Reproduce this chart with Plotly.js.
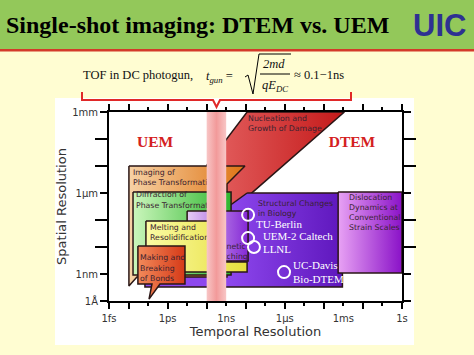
<!DOCTYPE html>
<html><head><meta charset="utf-8">
<script src="https://cdn.plot.ly/plotly-3.0.1.min.js"></script>
<style>html,body{margin:0;padding:0;background:#FFFDD2;}#chart{width:474px;height:355px;}</style>
</head><body><div id="chart"></div>
<script>
// ---- axis ticks (exponents: log10 seconds, log10 metres) ----
const timeTickExp = [-15, -12, -9, -6, -3, 0];
const timeTickText = ['1fs', '1ps', '1ns', '1µs', '1ms', '1s'];
const timeLongTicks = [-15, -14, -12, -10, -8, -6, -4, -2, 0];
const timeShortTicks = [-13, -11, -9, -7, -5, -3, -1];
const lengthTickExp = [-10, -9, -6, -3];
const lengthTickText = ['1Å', '1nm', '1µm', '1mm'];
const lengthMinorTicks = [-8, -7, -5, -4];

// ---- regions: vertices as (log10 time [s], log10 length [m]) ----
const nucleationT = [-7.93, -2.95, -8.80, -10.85, -9.98];
const nucleationD = [-3.00, -3.00, -6.70, -6.70, -4.96];
const structuralT = [-7.93, -3.05, -3.05, -13.16, -13.16, -9.42];
const structuralD = [-6.00, -6.00, -9.48, -9.48, -7.37, -6.78];
const imagingT = [-13.98, -8.04, -8.96, -8.96, -13.57, -13.98];
const imagingD = [-5.00, -5.00, -5.67, -9.11, -9.11, -9.44];
const diffractionT = [-13.77, -8.75, -8.75, -13.77];
const diffractionD = [-5.96, -5.96, -9.04, -9.04];
const magneticT = [-11.00, -7.88, -7.88, -11.00];
const magneticD = [-6.67, -6.67, -8.52, -8.52];
const meltingT = [-13.11, -9.52, -9.52, -7.93, -7.93, -13.11];
const meltingD = [-7.04, -7.04, -8.56, -8.56, -8.93, -8.93];
const makingT = [-13.52, -11.11, -11.11, -12.39, -12.95, -12.80, -13.52];
const makingD = [-7.96, -7.96, -9.37, -9.37, -9.93, -9.37, -9.37];
const dislocationT = [-3.27, 0.00, 0.00, -3.27];
const dislocationD = [-5.96, -5.96, -8.96, -8.96];
const gunTofT = [-10, -9, -9, -10];
const gunTofD = [-10, -10, -3, -3];

// ---- region labels ----
const regionLabels = ['Nucleation and<br>Growth of Damage', 'Structural Changes<br>in Biology',
  'Dislocation<br>Dynamics at<br>Conventional<br>Strain Scales', 'Imaging of<br>Phase Transformation',
  'Diffraction of<br>Phase Transformation', 'Melting and<br>Resolidification', 'Magnetic<br>Switching',
  'Making and<br>Breaking<br>of Bonds'];
const regionLabelT = [-7.88, -7.37, -2.71, -13.77, -13.62, -12.90, -9.83, -13.41];
const regionLabelD = [-3.44, -6.59, -6.74, -5.44, -6.28, -7.48, -8.19, -8.80];

// ---- instruments ----
const instrumentT = [-7.88, -7.88, -7.58, -6.04];
const instrumentD = [-6.81, -7.67, -8.00, -8.93];
const instrumentLabels = ['TU-Berlin', 'UEM-2 Caltech', 'LLNL', 'UC-Davis<br>Bio-DTEM'];
const instrumentLabelT = [-7.47, -7.12, -7.12, -5.58];
const instrumentLabelD = [-7.19, -7.63, -8.11, -8.96];

const methodLabels = ['UEM', 'DTEM'];
const methodT = [-12.64, -2.56];
const methodD = [-4.15, -4.15];

function region(t, d, c0, c1, lineColor, start, stop) {
  const g = {type: 'horizontal', colorscale: [[0, c0], [1, c1]]};
  if (start !== undefined) { g.start = start; g.stop = stop; }
  return {x: t.concat([t[0]]), y: d.concat([d[0]]), mode: 'lines', fill: 'toself',
    fillgradient: g, line: {color: lineColor, width: lineColor ? 1.5 : 0},
    hoverinfo: 'skip', showlegend: false};
}
const edge = '#2a1616';
const traces = [
  region(nucleationT, nucleationD, '#E86A6A', '#C41A1A', edge),
  region(structuralT, structuralD, '#8E48EE', '#5E16BC', edge, -9, -3),
  region(imagingT, imagingD, '#F7D2A6', '#DE7414', edge),
  region(diffractionT, diffractionD, '#CBF6BC', '#2EB62E', edge),
  region(magneticT, magneticD, '#E6CCF4', '#8428D6', edge),
  region(meltingT, meltingD, '#FBFBA4', '#E6DE3C', edge),
  region(makingT, makingD, '#F28A5A', '#D63A18', edge),
  region(dislocationT, dislocationD, '#E8A2F4', '#8A12C8', edge),
  {x: regionLabelT, y: regionLabelD, text: regionLabels, mode: 'text', textposition: 'middle right',
    textfont: {family: 'DejaVu Sans', size: 7.8, color: '#3a2230'}, hoverinfo: 'skip', showlegend: false},
  {x: gunTofT.concat([gunTofT[0]]), y: gunTofD.concat([gunTofD[0]]), mode: 'lines', fill: 'toself',
    fillgradient: {type: 'horizontal', colorscale: [[0, '#F8C6C6'], [0.5, '#F29A9A'], [1, '#F8C6C6']]},
    line: {width: 0}, hoverinfo: 'skip', showlegend: false},
  {x: instrumentT, y: instrumentD, mode: 'markers',
    marker: {symbol: 'circle-open', size: 12, line: {color: '#FFFFFF', width: 2}, color: '#FFFFFF'},
    hoverinfo: 'skip', showlegend: false},
  {x: instrumentLabelT, y: instrumentLabelD, text: instrumentLabels, mode: 'text', textposition: 'middle right',
    textfont: {family: 'Liberation Serif', size: 11, color: '#FFFFFF'}, hoverinfo: 'skip', showlegend: false},
  {x: methodT, y: methodD, text: methodLabels.map(s => '<b>' + s + '</b>'), mode: 'text', textposition: 'middle center',
    textfont: {family: 'Liberation Serif', size: 15.5, color: '#D42020'}, hoverinfo: 'skip', showlegend: false},
  {x: [], y: [], xaxis: 'x2', yaxis: 'y', mode: 'markers', hoverinfo: 'skip', showlegend: false}
];

// ---- slide decoration helpers (pixel -> paper) ----
const L = 109, R = 402, T = 112, B = 301;
const px = v => (v - L) / (R - L);
const py = v => (B - v) / (B - T);
function path(pts) { return pts.map((p, i) => (i ? 'L' : 'M') + px(p[0]) + ',' + py(p[1])).join(' '); }
function rect(x0, y0, x1, y1, color, layer) {
  return {type: 'rect', xref: 'paper', yref: 'paper', x0: px(x0), x1: px(x1), y0: py(y0), y1: py(y1),
    fillcolor: color, line: {width: 0}, layer: layer || 'below'};
}
const shapes = [
  rect(0, 0, 474, 49, '#93C85A'),
  rect(0, 49, 474, 51.5, '#D43A2A'),
  rect(55, 98, 414, 345, '#FFFFFF'),
  {type: 'path', xref: 'paper', yref: 'paper', path: path([[82, 92], [82, 100], [213, 100], [216.5, 107], [220, 100], [351, 100], [351, 92]]),
    line: {color: '#E02828', width: 2}, layer: 'below'},
  {type: 'path', xref: 'paper', yref: 'paper', path: path([[245, 77], [248, 75], [253, 94], [259, 54], [291, 54]]),
    line: {color: '#000', width: 1}},
  {type: 'path', xref: 'paper', yref: 'paper', path: path([[260, 74], [290, 74]]), line: {color: '#000', width: 1}}
];
function ann(text, x, y, xa, size, family, color, extra) {
  return Object.assign({text: text, xref: 'paper', yref: 'paper', x: px(x), y: py(y), xanchor: xa, yanchor: 'middle',
    showarrow: false, font: {size: size, family: family, color: color}}, extra || {});
}
const serif = 'Liberation Serif';
const annotations = [
  ann('<b>Single-shot imaging: DTEM vs. UEM</b>', 4, 25, 'left', 24, serif, '#000'),
  ann('<b>UIC</b>', 439, 25, 'center', 31, 'Liberation Sans', '#2E3192'),
  ann('TOF in DC photogun,', 81, 75, 'left', 12.5, serif, '#111'),
  ann('<i>t</i><sub><i>gun</i></sub> =', 204, 77, 'left', 12.5, serif, '#111'),
  ann('<i>2md</i>', 274, 64, 'center', 12.5, serif, '#111'),
  ann('<i>qE</i><sub><i>DC</i></sub>', 275, 86, 'center', 12.5, serif, '#111'),
  ann('≈ 0.1−1ns', 292, 75, 'left', 12.5, serif, '#111')
];

const tickFont = {family: 'DejaVu Sans', size: 10, color: '#333'};
const layout = {
  width: 474, height: 355,
  margin: {l: L, r: 474 - R, t: T, b: 355 - B, pad: 0},
  paper_bgcolor: '#FFFDD2', plot_bgcolor: '#FFFFFF', showlegend: false,
  font: {family: 'DejaVu Sans', color: '#333'},
  xaxis: {range: [-15, 0], tickmode: 'array', tickvals: timeTickExp, ticktext: timeTickText,
    ticks: 'outside', ticklen: 7, tickcolor: 'rgba(0,0,0,0)', showline: true, linecolor: '#000', linewidth: 2,
    mirror: true, showgrid: false, zeroline: false, tickfont: tickFont, fixedrange: true,
    title: {text: 'Temporal Resolution', font: {family: 'DejaVu Sans', size: 13, color: '#333'}, standoff: 4}},
  xaxis2: {overlaying: 'x', anchor: 'y', side: 'bottom', range: [-15, 0], tickmode: 'array', tickvals: timeLongTicks,
    ticks: 'outside', ticklen: 7, tickwidth: 2, tickcolor: '#000', mirror: 'ticks', showticklabels: false,
    showgrid: false, zeroline: false, showline: false, fixedrange: true,
    minor: {tickmode: 'array', tickvals: timeShortTicks, ticks: 'outside', ticklen: 4, tickwidth: 2, tickcolor: '#000', showgrid: false}},
  yaxis: {range: [-10, -3], tickmode: 'array', tickvals: lengthTickExp, ticktext: lengthTickText,
    ticks: 'outside', ticklen: 7, tickwidth: 2, tickcolor: '#000', showline: true, linecolor: '#000', linewidth: 2,
    mirror: 'ticks', showgrid: false, zeroline: false, tickfont: tickFont, fixedrange: true,
    minor: {tickmode: 'array', tickvals: lengthMinorTicks, ticks: 'outside', ticklen: 12, tickwidth: 2, tickcolor: '#000', showgrid: false},
    title: {text: 'Spatial Resolution', font: {family: 'DejaVu Sans', size: 13, color: '#333'}, standoff: 3}},
  shapes: shapes,
  annotations: annotations
};
Plotly.newPlot('chart', traces, layout, {staticPlot: true, displayModeBar: false});
</script></body></html>
